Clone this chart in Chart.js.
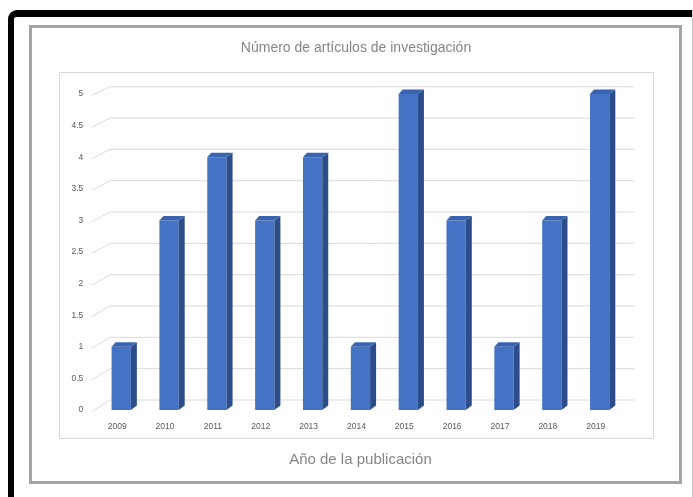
<!DOCTYPE html>
<html>
<head>
<meta charset="utf-8">
<script src="https://cdn.jsdelivr.net/npm/chart.js@4/dist/chart.umd.min.js"></script>
<style>
  html, body { margin:0; padding:0; width:693px; height:497px; overflow:hidden; background:#fff; }
  #blackFrame { position:absolute; left:8px; top:10px; width:684px; height:487px; box-sizing:border-box;
    border-left:6px solid #000; border-top:7px solid #000; border-right:none; border-bottom:none;
    border-radius:9px 0 0 0; }
  #edge { position:absolute; left:692px; top:10px; width:1px; height:487px; background:#c8c8c8; }
  #grayFrame { position:absolute; left:29px; top:25px; width:653px; height:459px; box-sizing:border-box;
    border:3.5px solid #a4a4a4; background:#fff; }
  #wrap { position:absolute; left:19px; top:0; width:674px; height:497px; }
</style>
</head>
<body>
<div id="blackFrame"></div>
<div id="edge"></div>
<div id="grayFrame"></div>
<div id="wrap"><canvas id="c" width="674" height="497"></canvas></div>
<script>
const chartTitle = 'Número de artículos de investigación';
const xAxisTitle = 'Año de la publicación';
const years = ['2009','2010','2011','2012','2013','2014','2015','2016','2017','2018','2019'];
const articles = [1, 3, 4, 3, 4, 1, 5, 3, 1, 3, 5];
const yMin = 0, yMax = 5, yStep = 0.5;

const GRID = '#d9d9d9';
const FRONT = '#4472c4';
const SIDE = '#2c4d8a';
const TOP = '#3a64b0';

const threeD = {
  id: 'threeD',
  beforeDatasetsDraw(chart) {
    const {ctx, chartArea: a, scales: {y}} = chart;
    ctx.save();
    ctx.strokeStyle = GRID;
    ctx.lineWidth = 1;
    ctx.strokeRect(Math.round(a.left - 38) + 0.5, Math.round(a.top - 22) + 0.5,
      Math.round(a.right - a.left + 68), Math.round(a.bottom - a.top + 50));
    y.ticks.forEach(t => {
      const yf = y.getPixelForValue(t.value);
      const yb = yf - 10 + (a.bottom - yf) * (2.7 / (a.bottom - a.top));
      ctx.beginPath();
      ctx.moveTo(a.left - 5.5, yf + 1.5);
      ctx.lineTo(a.left + 12.7, yb);
      ctx.lineTo(a.right + 11, yb);
      ctx.stroke();
    });
    ctx.restore();
  },
  afterDatasetsDraw(chart) {
    const {ctx} = chart;
    const meta = chart.getDatasetMeta(0);
    const dx = 6, dy = -4.5;
    ctx.save();
    meta.data.forEach(bar => {
      const {x, y, base, width} = bar.getProps(['x','y','base','width'], true);
      const L = x - width / 2, R = x + width / 2;
      ctx.fillStyle = SIDE;
      ctx.beginPath();
      ctx.moveTo(R, y);
      ctx.lineTo(R + dx, y + dy);
      ctx.lineTo(R + dx, base + dy);
      ctx.lineTo(R, base);
      ctx.closePath();
      ctx.fill();
      ctx.fillStyle = TOP;
      ctx.beginPath();
      ctx.moveTo(L, y);
      ctx.lineTo(L + dx - 2, y + dy);
      ctx.lineTo(R + dx, y + dy);
      ctx.lineTo(R, y);
      ctx.closePath();
      ctx.fill();
    });
    ctx.restore();
  }
};

new Chart(document.getElementById('c'), {
  type: 'bar',
  data: {
    labels: years,
    datasets: [{
      data: articles,
      backgroundColor: FRONT,
      borderWidth: 0,
      barPercentage: 0.403,
      categoryPercentage: 1
    }]
  },
  options: {
    responsive: false,
    animation: false,
    events: [],
    layout: { padding: 0 },
    plugins: {
      legend: { display: false },
      tooltip: { enabled: false },
      title: {
        display: true,
        text: chartTitle,
        color: '#858585',
        font: { family: 'Liberation Sans, Arial, sans-serif', size: 14, weight: 'normal', lineHeight: 1.2 },
        padding: { top: 39.5, bottom: 37.7 }
      }
    },
    scales: {
      x: {
        grid: { display: false, drawTicks: false },
        border: { display: false },
        ticks: {
          color: '#595959',
          font: { family: 'Liberation Sans, Arial, sans-serif', size: 8.5 },
          padding: 12,
          labelOffset: -4,
          maxRotation: 0
        },
        title: {
          display: true,
          text: xAxisTitle,
          color: '#858585',
          font: { family: 'Liberation Sans, Arial, sans-serif', size: 15, lineHeight: 1.2 },
          padding: { top: 0, bottom: 28 }
        },
        afterFit(s) { s.height = 87; }
      },
      y: {
        min: yMin,
        max: yMax,
        grid: { display: false, drawTicks: false },
        border: { display: false },
        ticks: {
          stepSize: yStep,
          color: '#595959',
          font: { family: 'Liberation Sans, Arial, sans-serif', size: 8.5 },
          padding: 14,
          callback: v => String(v)
        },
        afterFit(s) { s.width = 78.3; }
      },
      yR: {
        position: 'right',
        min: 0, max: 1,
        grid: { display: false, drawTicks: false },
        border: { display: false },
        ticks: { display: false },
        afterFit(s) { s.width = 69.4; }
      }
    }
  },
  plugins: [threeD]
});
</script>
</body>
</html>
